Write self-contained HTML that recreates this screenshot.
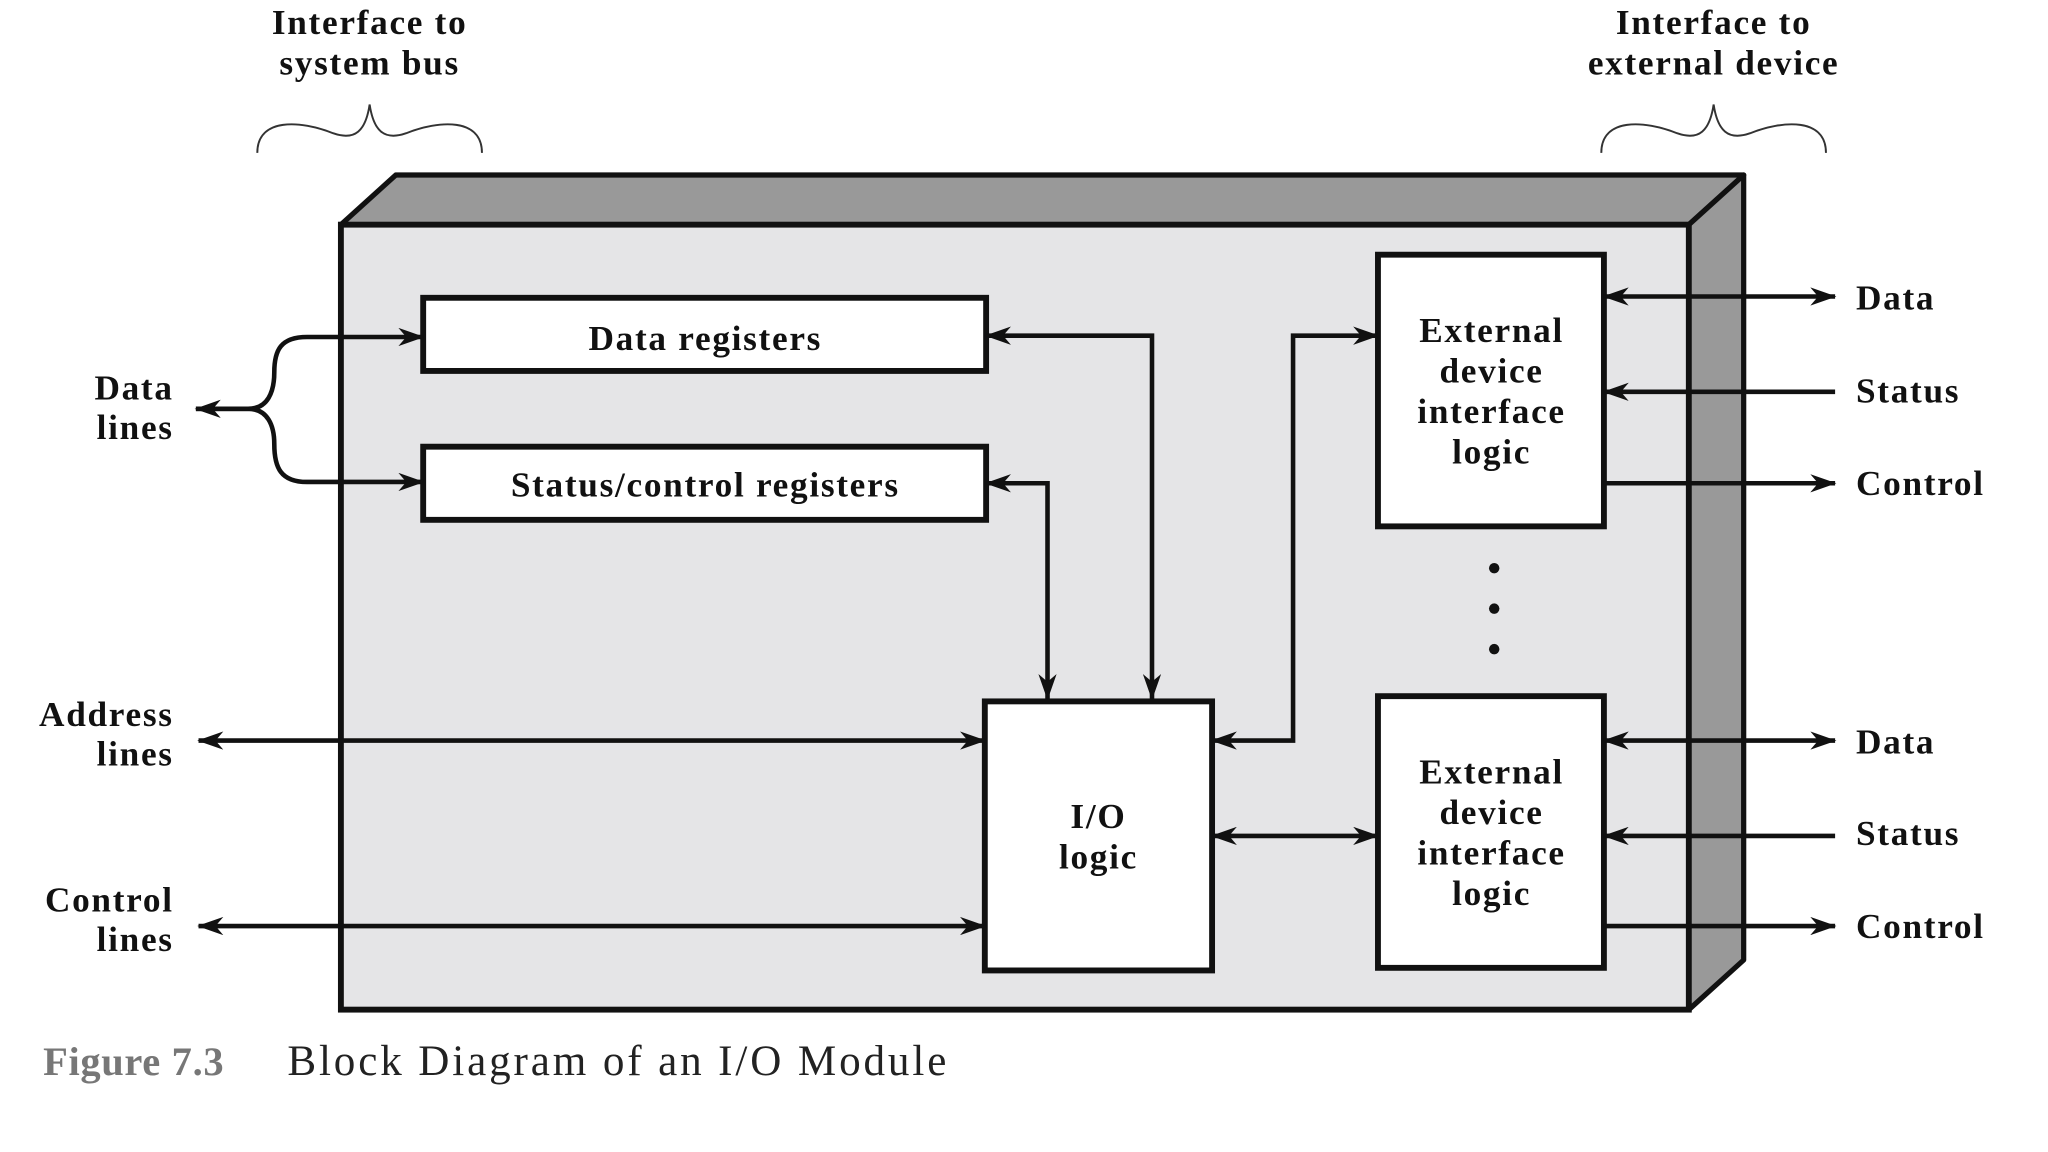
<!DOCTYPE html>
<html><head><meta charset="utf-8"><style>
html,body{margin:0;padding:0;background:#fff;}
svg{display:block;}
text{font-family:"Liberation Serif",serif;font-weight:bold;fill:#111;font-size:27px;letter-spacing:1.3px;}
</style></head><body>
<svg width="2048" height="1152" viewBox="0 0 1568 882" preserveAspectRatio="none" xmlns="http://www.w3.org/2000/svg">
<defs>
<marker id="a" viewBox="0 0 20 14" refX="19" refY="7" markerWidth="20" markerHeight="14" markerUnits="userSpaceOnUse" orient="auto-start-reverse">
<path d="M0,0 L20,7 L0,14 L6,7 Z" fill="#111"/>
</marker>
</defs>
<rect width="1568" height="882" fill="#fff"/>
<path d="M197,117 C197,90 230,92 255,102 C272,108 280,100 283,80 C286,100 294,108 311,102 C336,92 369,90 369,117" fill="none" stroke="#333" stroke-width="1.5"/>
<path d="M1226,117 C1226,90 1259,92 1284,102 C1301,108 1309,100 1312,80 C1315,100 1323,108 1340,102 C1365,92 1398,90 1398,117" fill="none" stroke="#333" stroke-width="1.5"/>
<text x="283" y="26" text-anchor="middle">Interface to</text>
<text x="283" y="57" text-anchor="middle">system bus</text>
<text x="1312" y="26" text-anchor="middle">Interface to</text>
<text x="1312" y="57" text-anchor="middle">external device</text>
<polygon points="261,172 303,134 1335,134 1293,172" fill="#999" stroke="#111" stroke-width="4" stroke-linejoin="round"/>
<polygon points="1293,172 1335,134 1335,735 1293,773" fill="#999" stroke="#111" stroke-width="4" stroke-linejoin="round"/>
<rect x="261" y="172" width="1032" height="601" fill="#e5e5e7" stroke="#111" stroke-width="4.5"/>
<rect x="324" y="228" width="431" height="56" fill="#fff" stroke="#111" stroke-width="4.5"/>
<rect x="324" y="342" width="431" height="56" fill="#fff" stroke="#111" stroke-width="4.5"/>
<rect x="1055" y="195" width="173" height="208" fill="#fff" stroke="#111" stroke-width="4.5"/>
<rect x="1055" y="533" width="173" height="208" fill="#fff" stroke="#111" stroke-width="4.5"/>
<rect x="754" y="537" width="174" height="206" fill="#fff" stroke="#111" stroke-width="4.5"/>
<text x="540" y="268" text-anchor="middle">Data registers</text>
<text x="540" y="380" text-anchor="middle">Status/control registers</text>
<g text-anchor="middle">
<text x="1142" y="262">External</text><text x="1142" y="293">device</text><text x="1142" y="324">interface</text><text x="1142" y="355">logic</text>
<text x="1142" y="600">External</text><text x="1142" y="631">device</text><text x="1142" y="662">interface</text><text x="1142" y="693">logic</text>
<text x="841" y="634">I/O</text><text x="841" y="665">logic</text>
</g>
<g fill="none" stroke="#111" stroke-width="3.5">
<path d="M150,313 L190,313 C205,313 210,300 210,285 C210,268 215,258 235,258 L324,258" marker-end="url(#a)"/>
<path d="M190,313 C205,313 210,326 210,340 C210,358 215,369 235,369 L324,369" marker-end="url(#a)"/>
<line x1="190" y1="313" x2="150" y2="313" marker-end="url(#a)"/>
<path d="M755,257 L882,257 L882,535" marker-start="url(#a)" marker-end="url(#a)"/>
<path d="M755,370 L802,370 L802,535" marker-start="url(#a)" marker-end="url(#a)"/>
<line x1="152" y1="567" x2="754" y2="567" marker-start="url(#a)" marker-end="url(#a)"/>
<line x1="152" y1="709" x2="754" y2="709" marker-start="url(#a)" marker-end="url(#a)"/>
<path d="M928,567 L990,567 L990,257 L1055,257" marker-start="url(#a)" marker-end="url(#a)"/>
<line x1="928" y1="640" x2="1055" y2="640" marker-start="url(#a)" marker-end="url(#a)"/>
<line x1="1228" y1="227" x2="1405" y2="227" marker-start="url(#a)" marker-end="url(#a)"/>
<line x1="1405" y1="300" x2="1228" y2="300" marker-end="url(#a)"/>
<line x1="1228" y1="370" x2="1405" y2="370" marker-end="url(#a)"/>
<line x1="1228" y1="567" x2="1405" y2="567" marker-start="url(#a)" marker-end="url(#a)"/>
<line x1="1405" y1="640" x2="1228" y2="640" marker-end="url(#a)"/>
<line x1="1228" y1="709" x2="1405" y2="709" marker-end="url(#a)"/>
</g>
<circle cx="1144" cy="435" r="4" fill="#111"/>
<circle cx="1144" cy="466" r="4" fill="#111"/>
<circle cx="1144" cy="497" r="4" fill="#111"/>
<g text-anchor="end">
<text x="133" y="306">Data</text><text x="133" y="336">lines</text>
<text x="133" y="556">Address</text><text x="133" y="586">lines</text>
<text x="133" y="698">Control</text><text x="133" y="728">lines</text>
</g>
<text x="1421" y="237">Data</text>
<text x="1421" y="308">Status</text>
<text x="1421" y="379">Control</text>
<text x="1421" y="577">Data</text>
<text x="1421" y="647">Status</text>
<text x="1421" y="718">Control</text>
<text x="33" y="823" style="fill:#777;font-size:31px;letter-spacing:0.5px">Figure 7.3</text>
<text x="220" y="823" style="font-weight:normal;font-size:33px;fill:#222;letter-spacing:2.2px">Block Diagram of an I/O Module</text>
</svg>
</body></html>
